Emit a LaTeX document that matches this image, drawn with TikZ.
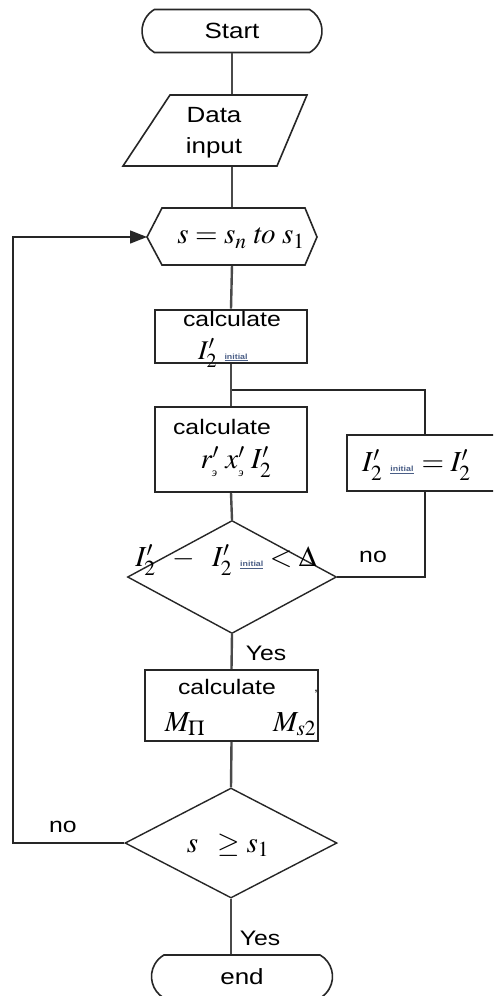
\RequirePackage{fix-cm}
\documentclass[tikz,border=0pt]{standalone}
\usepackage{mathptmx}
\usepackage{fontspec}
\setmainfont[FakeStretch=1.18]{Liberation Sans}
\newfontfamily\cyrit[FakeStretch=1.0]{Liberation Serif}
\usetikzlibrary{shapes.misc,shapes.geometric,arrows.meta}
\definecolor{ln}{HTML}{4A4A4A}
\definecolor{initc}{HTML}{4A5E86}
\newcommand\initsub{\mbox{\fontsize{7.5}{8}\selectfont\bfseries\color{initc}\underline{initial}}}
\newcommand\esub{\mbox{\fontsize{12}{12}\selectfont\cyrit\itshape э}}
\begin{document}
\begin{tikzpicture}[x=1pt,y=-1pt,
  conn/.style={draw=ln,line width=2.4pt},
  thinln/.style={draw=black!85,line width=1.4pt},
  box/.style={draw=black!85,line width=1.6pt,fill=white,inner sep=0pt},
  term/.style={rounded rectangle,rounded rectangle arc length=120,draw=black!85,line width=1.6pt,fill=white,inner sep=0pt,font=\fontsize{22}{24}\selectfont},
  dia/.style={diamond,draw=black!85,line width=1.4pt,fill=white,inner sep=0pt,aspect=1},
  txt/.style={inner sep=0pt,font=\fontsize{21}{24}\selectfont},
  mth/.style={inner sep=0pt,font=\fontsize{29}{32}\selectfont}]
\useasboundingbox (0,0) rectangle (493,996);
\clip (0,0) rectangle (493,996);
\fill[white] (0,0) rectangle (493,996);

% named points
\coordinate (dtop) at (232,95);
\coordinate (dbot) at (232,166);
\coordinate (hexT) at (232,208);
\coordinate (hexB) at (232,265);
\coordinate (hexL) at (147,237);
\coordinate (j) at (232,390);
\coordinate (jr) at (425,390);
\coordinate (b3top) at (425,435);
\coordinate (b3bot) at (425,491);
\coordinate (loopc) at (13,843);

% shapes
\node[term,minimum width=180pt,minimum height=43pt] (start) at (232,31) {Start};
\node[box,line width=2.6pt,minimum width=152pt,minimum height=53pt] (b1) at (231,336.5) {};
\node[box,minimum width=152pt,minimum height=85pt] (b2) at (231,449.5) {};
\node[box,minimum width=150pt,minimum height=56pt] (b3) at (422,463) {};
\node[dia,minimum width=209pt,minimum height=113pt] (d1) at (232,577) {};
\node[box,minimum width=173pt,minimum height=71pt] (b4) at (231.5,705.5) {};
\node[dia,minimum width=212pt,minimum height=110pt] (d2) at (231,843) {};
\node[term,minimum width=181pt,minimum height=43pt] (end) at (242,976.5) {end};

% connectors
\draw[conn] (start.south) -- (dtop);
\draw[conn] (dbot) -- (hexT);
\draw[conn] (hexB) -- (b1.north);
\draw[conn] (b1.south) -- (b2.north);
\draw[thinln] (j) -- (jr) -- (b3top);
\draw[conn] (b2.south) -- (d1.north);
\draw[thinln] (b3bot) |- (d1.east);
\draw[conn] (d1.south) -- (b4.north);
\draw[conn] (b4.south) -- (d2.north);
\draw[thinln,-{Triangle[length=17pt,width=13pt]}] (d2.west) -- (loopc) |- (hexL);
\draw[conn] (d2.south) -- (d2.south |- end.north);

% parallelogram and hexagon
\draw[box] (170,95) -- (307,95) -- (277,166) -- (123,166) -- cycle;
\node[txt,align=center,font=\fontsize{22}{31}\selectfont] (data) at (214,133) {Data\\input};
\draw[box] (162,208) -- (305,208) -- (317,237) -- (305,265) -- (162,265) -- (147,237) -- cycle;
\node[mth] (hext) at (241,238) {$s = s_n\;\mathit{to}\;s_1$};

% texts in boxes
\node[txt] (c1) at (232,319) {calculate};
\node[mth,anchor=west,font=\fontsize{27}{30}\selectfont] (i1) at (198,353) {$I'_2$\;\initsub};
\node[txt] (c2) at (222,427) {calculate};
\node[mth] (r2) at (236,462) {$r'_{\esub}\;x'_{\esub}\;I'_2$};
\node[mth,anchor=west] (i3) at (362,465) {$I'_2$\;\initsub\;$= I'_2$};
\node[mth] (d1t) at (226,560) {$I'_2 \;\;-\;\; I'_2$\;\initsub$\;< \Delta$};
\node[txt] (c4) at (227,687) {calculate};
\node[mth] (m1) at (185,724) {$M_{\Pi}$};
\node[mth,anchor=west] (m2) at (273,724) {$M_{s2}$};
\node[inner sep=0pt,font=\fontsize{12}{12}\selectfont] (cm) at (316,692) {,};
\node[mth] (d2t) at (228,845) {$s\;\;\geq s_1$};

% labels
\node[txt] (no1) at (373,557) {no};
\node[txt] (yes1) at (266,653) {Yes};
\node[txt] (no2) at (63,827) {no};
\node[txt] (yes2) at (260,938) {Yes};
\end{tikzpicture}
\end{document}
